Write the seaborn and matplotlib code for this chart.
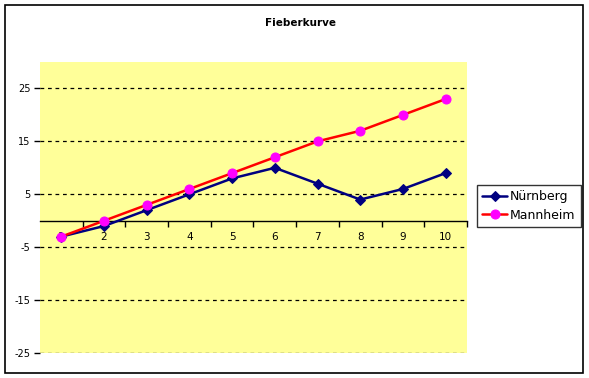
import seaborn as sns
import matplotlib
matplotlib.use("Agg")
import matplotlib.pyplot as plt
from matplotlib import patches
import pandas as pd

# Daten
tage = [1, 2, 3, 4, 5, 6, 7, 8, 9, 10]
nuernberg = [-3, -1, 2, 5, 8, 10, 7, 4, 6, 9]
mannheim = [-3, 0, 3, 6, 9, 12, 15, 17, 20, 23]
y_ticks = [-25, -15, -5, 5, 15, 25]

df = pd.DataFrame({"Tag": tage, "Nürnberg": nuernberg, "Mannheim": mannheim})

sns.set_style("white")
plt.rcParams["font.family"] = ["DejaVu Sans"]
plt.rcParams["text.color"] = "black"
plt.rcParams["xtick.color"] = "black"
plt.rcParams["ytick.color"] = "black"

fig = plt.figure(figsize=(5.89, 3.78), dpi=100)
ax = fig.add_axes([40 / 589, 25 / 378, 427 / 589, 291 / 378])
ax.set_facecolor("#FFFF99")

# Rahmen um das ganze Diagramm
fig.patches.append(patches.Rectangle((5 / 589, 5 / 378), 578 / 589, 368 / 378,
                                     transform=fig.transFigure, fill=False,
                                     edgecolor="black", linewidth=1.2))

# Gitterlinien
for y in y_ticks:
    ax.axhline(y, color="black", linestyle=(0, (3, 3)), linewidth=0.9, zorder=1)

sns.lineplot(data=df, x="Tag", y="Nürnberg", ax=ax, color="#000080", marker="D",
             markersize=5.5, markeredgecolor="#000080", linewidth=1.8,
             label="Nürnberg", zorder=4)
sns.lineplot(data=df, x="Tag", y="Mannheim", ax=ax, color="#FF0000", marker="o",
             markersize=6.5, markerfacecolor="#FF00FF", markeredgecolor="#FF00FF",
             linewidth=1.8, label="Mannheim", zorder=5)

ax.set_xlim(0.5, 10.5)
ax.set_ylim(-25, 30)

# x-Achse bei y=0
for s in ["top", "right", "left"]:
    ax.spines[s].set_visible(False)
ax.spines["bottom"].set_position(("data", 0))
ax.spines["bottom"].set_linewidth(1.0)
ax.spines["bottom"].set_color("black")
ax.set_xticks([t + 0.5 for t in tage])
ax.set_xticks(tage, minor=True)
ax.set_xticklabels([])
ax.set_xticklabels([str(t) for t in tage], minor=True)
ax.tick_params(axis="x", which="major", direction="out", length=4, width=1, color="black", bottom=True)
ax.tick_params(axis="x", which="minor", length=0, labelsize=7.5, pad=8)

ax.set_yticks(y_ticks)
ax.set_yticklabels([str(y) for y in y_ticks])
ax.tick_params(axis="y", direction="out", length=4, width=1, color="black",
               left=True, labelsize=7, pad=3)
ax.set_xlabel("")
ax.set_ylabel("")

fig.text(300 / 589, 1 - 23 / 378, "Fieberkurve", ha="center", va="center",
         fontsize=7.5, fontweight="bold")

ax.legend().remove()
handles, labels = ax.get_legend_handles_labels()
leg = fig.legend(handles, labels, loc="upper left", bbox_to_anchor=(477 / 589, 1 - 185 / 378),
                 frameon=True, fancybox=False, edgecolor="black", fontsize=9,
                 handlelength=2.0, borderpad=0.4, labelspacing=0.45, handletextpad=0.25,
                 borderaxespad=0)
leg.get_frame().set_linewidth(1.0)

fig.savefig("out.png", dpi=100)
